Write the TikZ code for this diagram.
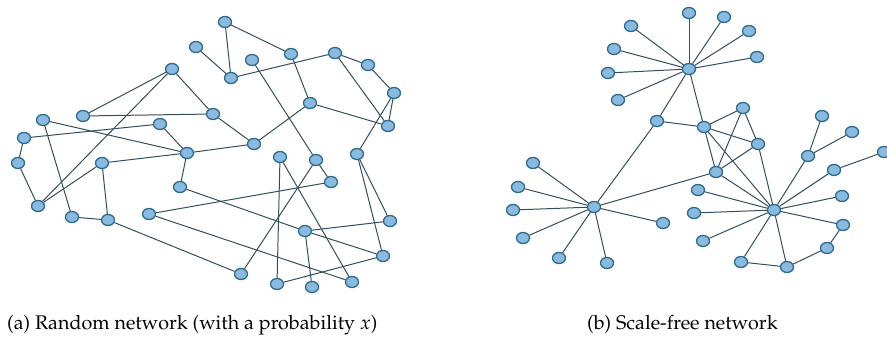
\documentclass[tikz,border=0pt]{standalone}
\usepackage[T1]{fontenc}
\usepackage{mathpazo}
\usepackage{xcolor}
\usepackage{tikz}
\usetikzlibrary{shapes.geometric}
\definecolor{vtxfill}{RGB}{138,186,224}
\definecolor{vtxline}{RGB}{46,106,140}
\definecolor{linkcol}{RGB}{52,78,90}

\begin{document}
\begin{tikzpicture}[x=0.03cm, y=-0.03cm,
    vtx/.style={ellipse, draw=vtxline, fill=vtxfill, line width=1.1pt, minimum width=0.39cm, minimum height=0.33cm, inner sep=0pt},
    hub/.style={vtx},
    link/.style={draw=linkcol, line width=0.85pt},
    capt/.style={font=\fontsize{16.8}{20}\selectfont, anchor=base west, inner sep=0pt}
  ]
    \path[use as bounding box] (0,0) rectangle (887,344);

    % (a) random network
    \node[vtx] (r1) at (225,22) {};
    \node[vtx] (r2) at (196,47) {};
    \node[vtx] (r3) at (172,69) {};
    \node[vtx] (r4) at (291,54) {};
    \node[vtx] (r5) at (335,53) {};
    \node[vtx] (r6) at (252,60) {};
    \node[vtx] (r7) at (231,78) {};
    \node[vtx] (r8) at (368,65) {};
    \node[vtx] (r9) at (394,93) {};
    \node[vtx] (r10) at (310,103) {};
    \node[vtx] (r11) at (388,126) {};
    \node[vtx] (r12) at (213,114) {};
    \node[vtx] (r13) at (83,116) {};
    \node[vtx] (r14) at (43,120) {};
    \node[vtx] (r15) at (160,124) {};
    \node[vtx] (r16) at (24,138) {};
    \node[vtx] (r17) at (254,144) {};
    \node[vtx] (r18) at (187,153) {};
    \node[vtx] (r19) at (18,163) {};
    \node[vtx] (r20) at (102,163) {};
    \node[vtx] (r21) at (180,187) {};
    \node[vtx] (r22) at (38,206) {};
    \node[vtx] (r23) at (72,217) {};
    \node[vtx] (r24) at (108,220) {};
    \node[vtx] (r25) at (149,214) {};
    \node[vtx] (r26) at (280,157) {};
    \node[vtx] (r27) at (316,160) {};
    \node[vtx] (r28) at (357,154) {};
    \node[vtx] (r29) at (331,182) {};
    \node[vtx] (r30) at (390,221) {};
    \node[vtx] (r31) at (305,231) {};
    \node[vtx] (r32) at (383,256) {};
    \node[vtx] (r33) at (241,274) {};
    \node[vtx] (r34) at (277,284) {};
    \node[vtx] (r35) at (312,287) {};
    \node[vtx] (r36) at (352,282) {};

    \draw[link] (r1) -- (r4);
    \draw[link] (r1) -- (r7);
    \draw[link] (r2) -- (r7);
    \draw[link] (r7) -- (r5);
    \draw[link] (r5) -- (r8);
    \draw[link] (r8) -- (r9);
    \draw[link] (r5) -- (r11);
    \draw[link] (r9) -- (r11);
    \draw[link] (r9) -- (r28);
    \draw[link] (r4) -- (r10);
    \draw[link] (r10) -- (r11);
    \draw[link] (r10) -- (r17);
    \draw[link] (r12) -- (r17);
    \draw[link] (r18) -- (r17);
    \draw[link] (r3) -- (r13);
    \draw[link] (r3) -- (r12);
    \draw[link] (r3) -- (r22);
    \draw[link] (r13) -- (r12);
    \draw[link] (r14) -- (r18);
    \draw[link] (r14) -- (r23);
    \draw[link] (r16) -- (r15);
    \draw[link] (r15) -- (r18);
    \draw[link] (r16) -- (r19);
    \draw[link] (r19) -- (r22);
    \draw[link] (r20) -- (r22);
    \draw[link] (r20) -- (r18);
    \draw[link] (r20) -- (r24);
    \draw[link] (r23) -- (r24);
    \draw[link] (r18) -- (r21);
    \draw[link] (r21) -- (r31);
    \draw[link] (r24) -- (r33);
    \draw[link] (r25) -- (r29);
    \draw[link] (r25) -- (r36);
    \draw[link] (r6) -- (r27);
    \draw[link] (r27) -- (r29);
    \draw[link] (r27) -- (r33);
    \draw[link] (r26) -- (r34);
    \draw[link] (r26) -- (r36);
    \draw[link] (r28) -- (r30);
    \draw[link] (r28) -- (r32);
    \draw[link] (r31) -- (r30);
    \draw[link] (r31) -- (r32);
    \draw[link] (r31) -- (r35);
    \draw[link] (r34) -- (r32);

    % (b) scale-free network
    \node[hub] (hubA) at (689,69) {};
    \node[hub] (hubB) at (594,207) {};
    \node[hub] (hubC) at (774,210) {};
    \node[vtx] (a1) at (689,13) {};
    \node[vtx] (a2) at (724,17) {};
    \node[vtx] (a3) at (749,31) {};
    \node[vtx] (a4) at (757,57) {};
    \node[vtx] (a5) at (631,26) {};
    \node[vtx] (a6) at (614,49) {};
    \node[vtx] (a7) at (608,73) {};
    \node[vtx] (a8) at (618,100) {};
    \node[vtx] (b0) at (657,121) {};
    \node[vtx] (b1) at (533,163) {};
    \node[vtx] (b2) at (518,187) {};
    \node[vtx] (b3) at (513,210) {};
    \node[vtx] (b4) at (523,238) {};
    \node[vtx] (b5) at (559,258) {};
    \node[vtx] (b6) at (607,263) {};
    \node[vtx] (b7) at (663,223) {};
    \node[vtx] (c0) at (704,127) {};
    \node[vtx] (c1) at (743,108) {};
    \node[vtx] (c2) at (758,144) {};
    \node[vtx] (c3) at (716,172) {};
    \node[vtx] (c4) at (698,190) {};
    \node[vtx] (c5) at (694,213) {};
    \node[vtx] (c6) at (703,241) {};
    \node[vtx] (c7) at (741,262) {};
    \node[vtx] (c8) at (787,267) {};
    \node[vtx] (c9) at (843,225) {};
    \node[vtx] (c10) at (842,196) {};
    \node[vtx] (c11) at (834,170) {};
    \node[vtx] (c12) at (808,156) {};
    \node[vtx] (c13) at (827,248) {};
    \node[vtx] (d1) at (822,116) {};
    \node[vtx] (d2) at (852,132) {};
    \node[vtx] (d3) at (884,152) {};

    \draw[link] (hubA) -- (a1);
    \draw[link] (hubA) -- (a2);
    \draw[link] (hubA) -- (a3);
    \draw[link] (hubA) -- (a4);
    \draw[link] (hubA) -- (a5);
    \draw[link] (hubA) -- (a6);
    \draw[link] (hubA) -- (a7);
    \draw[link] (hubA) -- (a8);
    \draw[link] (hubA) -- (b0);
    \draw[link] (hubA) -- (c0);
    \draw[link] (b0) -- (c0);
    \draw[link] (b0) -- (hubB);
    \draw[link] (hubB) -- (b1);
    \draw[link] (hubB) -- (b2);
    \draw[link] (hubB) -- (b3);
    \draw[link] (hubB) -- (b4);
    \draw[link] (hubB) -- (b5);
    \draw[link] (hubB) -- (b6);
    \draw[link] (hubB) -- (b7);
    \draw[link] (hubB) -- (c3);
    \draw[link] (c0) -- (c1);
    \draw[link] (c0) -- (c2);
    \draw[link] (c0) -- (c3);
    \draw[link] (c0) -- (hubC);
    \draw[link] (c1) -- (c2);
    \draw[link] (c1) -- (c3);
    \draw[link] (c2) -- (c3);
    \draw[link] (c2) -- (hubC);
    \draw[link] (c3) -- (hubC);
    \draw[link] (hubC) -- (c4);
    \draw[link] (hubC) -- (c5);
    \draw[link] (hubC) -- (c6);
    \draw[link] (hubC) -- (c7);
    \draw[link] (hubC) -- (c8);
    \draw[link] (hubC) -- (c9);
    \draw[link] (hubC) -- (c10);
    \draw[link] (hubC) -- (c11);
    \draw[link] (hubC) -- (c12);
    \draw[link] (c12) -- (d1);
    \draw[link] (c12) -- (d2);
    \draw[link] (c11) -- (d3);
    \draw[link] (c9) -- (c13);
    \draw[link] (c13) -- (c8);
    \draw[link] (c8) -- (c7);

    \node[capt] (captA) at (7,330) {(a) Random network (with a probability $x$)};
    \node[capt] (captB) at (587,330) {(b) Scale-free network};
  \end{tikzpicture}
\end{document}
